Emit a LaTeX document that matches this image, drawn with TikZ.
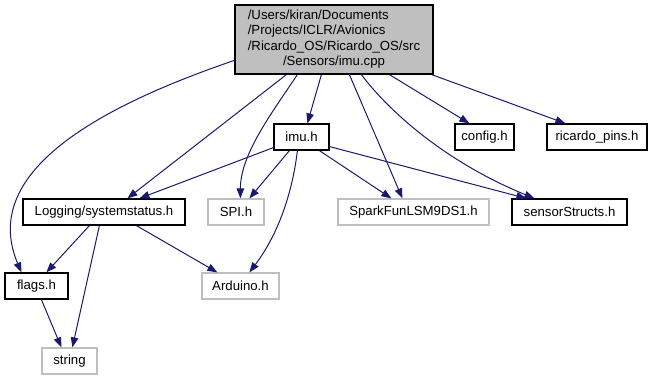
\documentclass[tikz,border=0pt]{standalone}
\usepackage{fontspec}
\setmainfont{Liberation Sans}
\usetikzlibrary{arrows.meta,calc}
\definecolor{edgeblue}{HTML}{191970}
\definecolor{boxgray}{HTML}{BFBFBF}
\tikzset{
  hdr/.style={draw=black, line width=1.2pt, inner sep=0pt, minimum height=26pt,
    font=\fontsize{13.2}{15.3}\selectfont},
  exthdr/.style={hdr, draw=boxgray},
  mainfile/.style={hdr, fill=boxgray, minimum height=69pt, minimum width=198pt},
  dep/.style={draw=edgeblue, line width=1pt,
    -{Triangle[length=10pt,width=7.5pt]}},
}
\begin{document}
\begin{tikzpicture}[x=1pt,y=-1pt]
\useasboundingbox (0,0) rectangle (656,380);

% nodes
\node[mainfile] (cpp) at (334,39.5) {\begin{tabular}{@{}l@{}}
/Users/kiran/Documents\\
/Projects/ICLR/Avionics\\
/Ricardo\_OS/Ricardo\_OS/src\\
\multicolumn{1}{@{}c@{}}{/Sensors/imu.cpp}
\end{tabular}};

\node[hdr, minimum width=55pt]     (imuh)     at (301.5,137) {imu.h};
\node[hdr, minimum width=59pt]     (config)   at (484.5,137) {config.h};
\node[hdr, minimum width=100pt]    (ricardo)  at (597,137)   {ricardo\_pins.h};
\node[hdr, minimum width=162pt]    (logging)  at (104,212)   {Logging/systemstatus.h};
\node[exthdr, minimum width=56pt]  (spi)      at (236,212)   {SPI.h};
\node[exthdr, minimum width=151pt] (sparkfun) at (413.5,212) {SparkFunLSM9DS1.h};
\node[hdr, minimum width=115pt]    (sensor)   at (569.5,212) {sensorStructs.h};
\node[hdr, minimum width=63pt]     (flags)    at (36.5,286)  {flags.h};
\node[exthdr, minimum width=77pt]  (arduino)  at (240.5,286) {Arduino.h};
\node[exthdr, minimum width=55pt]  (string)   at (69.5,361)  {string};

% includes of imu.cpp
\draw[dep] ($(cpp.north west)+(0,56)$) .. controls +(-185,63) and +(-34,-81) .. ($(flags.north west)+(17,0)$);
\draw[dep] ($(cpp.south west)+(52,0)$) -- ($(logging.north west)+(105,0)$);
\draw[dep] ($(cpp.south west)+(63,0)$) .. controls +(-26,39) and +(0,-44) .. ($(spi.north west)+(33,0)$);
\draw[dep] ($(cpp.south west)+(87,0)$) -- ($(imuh.north west)+(34,0)$);
\draw[dep] ($(cpp.south west)+(115,0)$) -- ($(sparkfun.north west)+(65,0)$);
\draw[dep] ($(cpp.south west)+(127,0)$) .. controls +(23,31) and +(-95,-39) .. ($(sensor.north west)+(23,0)$);
\draw[dep] ($(cpp.south west)+(155,0)$) -- ($(config.north west)+(15,0)$);
\draw[dep] ($(cpp.south east)+(-2,0)$) -- ($(ricardo.north west)+(19,0)$);

% includes of imu.h
\draw[dep] ($(imuh.south west)+(0,-3)$) -- ($(logging.north west)+(117,0)$);
\draw[dep] ($(imuh.south west)+(16,0)$) -- ($(spi.north west)+(42,0)$);
\draw[dep] ($(imuh.south west)+(24,0)$) .. controls +(-6,50) and +(25,-33) .. ($(arduino.north west)+(48,0)$);
\draw[dep] ($(imuh.south west)+(46,0)$) -- ($(sparkfun.north west)+(54,0)$);
\draw[dep] ($(imuh.south east)+(0,-4)$) -- ($(sensor.north west)+(15,0)$);

% includes of Logging/systemstatus.h
\draw[dep] ($(logging.south west)+(67,0)$) -- ($(flags.north west)+(42,0)$);
\draw[dep] ($(logging.south west)+(77,0)$) -- ($(string.north west)+(31,0)$);
\draw[dep] ($(logging.south west)+(114,0)$) -- ($(arduino.north west)+(16,0)$);

% includes of flags.h
\draw[dep] ($(flags.south west)+(37,0)$) -- ($(string.north west)+(20,0)$);
\end{tikzpicture}
\end{document}
